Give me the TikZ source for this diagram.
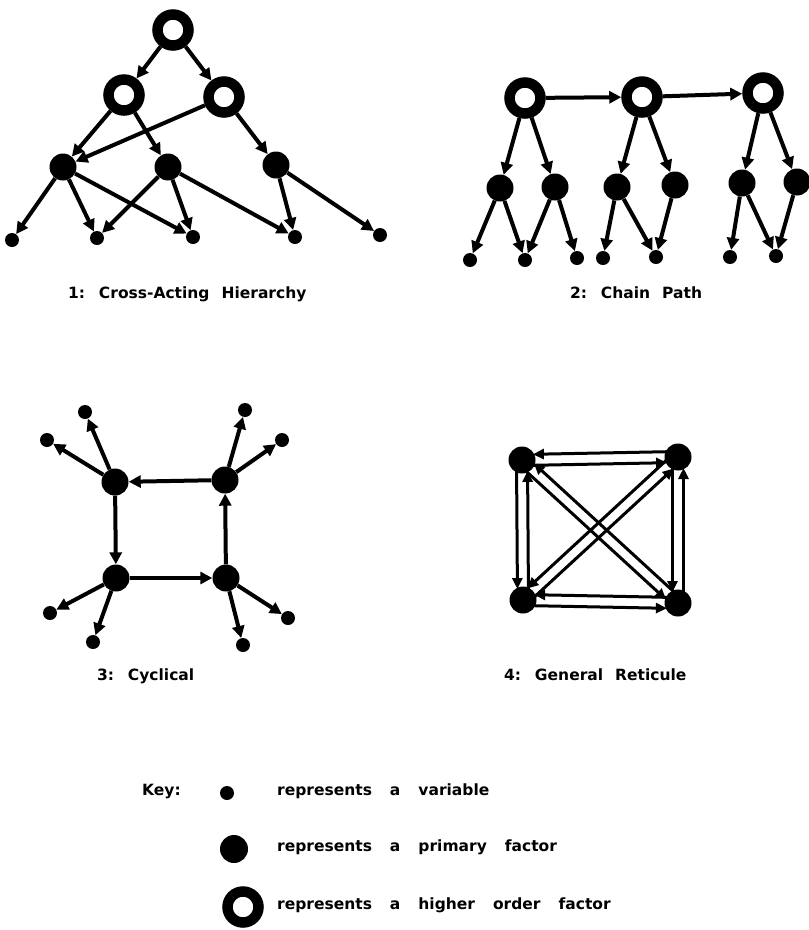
\documentclass[tikz,border=0pt]{standalone}
\usepackage{fontspec}
\newfontfamily\dotfont{DejaVu Sans}
\newcommand\labelfont{\dotfont\bfseries\fontsize{15.5}{18}\selectfont\spaceskip=12pt\relax}
\newcommand\keyfont{\dotfont\bfseries\fontsize{15.5}{18}\selectfont\spaceskip=18pt\relax}
\usetikzlibrary{arrows.meta,calc}
\tikzset{
  higher/.style = {
    circle, draw, line width=10.5pt, minimum size=31pt, inner sep=0pt
  },
  primary/.style = {
    circle, fill, minimum size=27pt, inner sep=0pt
  },
  vardot/.style = {
    circle, fill, minimum size=14pt, inner sep=0pt
  },
  link/.style = {
    -{Triangle[length=12pt,width=12pt]},
    line width=4pt
  },
  twin/.style = {
    -{Triangle[length=11pt,width=10pt]},
    line width=3pt,
    shorten <=11pt, shorten >=11pt,
    to path={($(\tikztostart)!5.5pt!-90:(\tikztotarget)$) -- ($(\tikztotarget)!5.5pt!90:(\tikztostart)$)}
  },
  diaglabel/.style = {
    anchor=mid west, inner sep=0pt, font=\labelfont
  },
  keytext/.style = {
    anchor=mid west, inner sep=0pt, font=\keyfont
  }
}

\begin{document}
\begin{tikzpicture}[x=1pt,y=-1pt]
		\useasboundingbox (0,0) rectangle (809,930);
		% 1: cross-acting hierarchy
		\node[higher] (atop) at (173,30) {};
		\node[higher] (ahl) at (124,95) {};
		\node[higher] (ahr) at (224,97) {};
		\node[primary] (ap1) at (63,167) {};
		\node[primary] (ap2) at (168,167) {};
		\node[primary] (ap3) at (276,165) {};
		\node[vardot] (av1) at (12,240) {};
		\node[vardot] (av2) at (97,238) {};
		\node[vardot] (av3) at (193,237) {};
		\node[vardot] (av4) at (295,237) {};
		\node[vardot] (av5) at (380,235) {};
		
		\path[link]   (atop) edge   (ahl);
		\path[link]   (atop) edge   (ahr);
		\path[link]   (ahl) edge    (ap1);
		\path[link]   (ahl) edge    (ap2);
		\path[link]   (ahr) edge    (ap1);
		\path[link]   (ahr) edge    (ap3);
		\path[link]   (ap1) edge    (av1);
		\path[link]   (ap1) edge    (av2);
		\path[link]   (ap1) edge    (av3);
		\path[link]   (ap2) edge    (av2);
		\path[link]   (ap2) edge    (av3);
		\path[link]   (ap2) edge    (av4);
		\path[link]   (ap3) edge    (av4);
		\path[link]   (ap3) edge    (av5);
		
		\node[diaglabel] (lcross) at (68,296) {1: Cross-Acting Hierarchy};
%		
		% 2: chain path
		\node[higher] (bh1) at (525,98) {};
		\node[higher] (bh2) at (642,97) {};
		\node[higher] (bh3) at (763,93) {};
		\node[primary] (bp1) at (500,188) {};
		\node[primary] (bp2) at (555,187) {};
		\node[primary] (bp3) at (617,187) {};
		\node[primary] (bp4) at (675,185) {};
		\node[primary] (bp5) at (742,183) {};
		\node[primary] (bp6) at (797,182) {};
		\node[vardot] (bv1) at (470,260) {};
		\node[vardot] (bv2) at (525,260) {};
		\node[vardot] (bv3) at (577,258) {};
		\node[vardot] (bv4) at (603,258) {};
		\node[vardot] (bv5) at (656,257) {};
		\node[vardot] (bv6) at (730,257) {};
		\node[vardot] (bv7) at (776,256) {};
		
		\path[link]   (bh1) edge    (bh2);
		\path[link]   (bh2) edge    (bh3);
		\path[link]   (bh1) edge    (bp1);
		\path[link]   (bh1) edge    (bp2);
		\path[link]   (bh2) edge    (bp3);
		\path[link]   (bh2) edge    (bp4);
		\path[link]   (bh3) edge    (bp5);
		\path[link]   (bh3) edge    (bp6);
		\path[link]   (bp1) edge    (bv1);
		\path[link]   (bp1) edge    (bv2);
		\path[link]   (bp2) edge    (bv2);
		\path[link]   (bp2) edge    (bv3);
		\path[link]   (bp3) edge    (bv4);
		\path[link]   (bp3) edge    (bv5);
		\path[link]   (bp4) edge    (bv5);
		\path[link]   (bp5) edge    (bv6);
		\path[link]   (bp5) edge    (bv7);
		\path[link]   (bp6) edge    (bv7);
		
		\node[diaglabel] (lchain) at (570,296) {2: Chain Path};
%		
		% 3: cyclical
		\node[primary] (ctl) at (115,482) {};
		\node[primary] (ctr) at (225,480) {};
		\node[primary] (cbl) at (116,578) {};
		\node[primary] (cbr) at (226,578) {};
		\node[vardot] (cv1) at (85,412) {};
		\node[vardot] (cv2) at (47,440) {};
		\node[vardot] (cv3) at (245,410) {};
		\node[vardot] (cv4) at (282,440) {};
		\node[vardot] (cv5) at (50,613) {};
		\node[vardot] (cv6) at (93,642) {};
		\node[vardot] (cv7) at (243,645) {};
		\node[vardot] (cv8) at (288,618) {};
		
		\path[link]   (ctr) edge    (ctl);
		\path[link]   (ctl) edge    (cbl);
		\path[link]   (cbl) edge    (cbr);
		\path[link]   (cbr) edge    (ctr);
		\path[link]   (ctl) edge    (cv1);
		\path[link]   (ctl) edge    (cv2);
		\path[link]   (ctr) edge    (cv3);
		\path[link]   (ctr) edge    (cv4);
		\path[link]   (cbl) edge    (cv5);
		\path[link]   (cbl) edge    (cv6);
		\path[link]   (cbr) edge    (cv7);
		\path[link]   (cbr) edge    (cv8);
		
		\node[diaglabel] (lcycle) at (97,678) {3: Cyclical};
%		
		% 4: general reticule
		\node[primary] (dtl) at (522,460) {};
		\node[primary] (dtr) at (678,457) {};
		\node[primary] (dbl) at (523,600) {};
		\node[primary] (dbr) at (678,603) {};
		
		\draw[twin]   (dtl) to    (dtr);
		\draw[twin]   (dtr) to    (dtl);
		\draw[twin]   (dtl) to    (dbl);
		\draw[twin]   (dbl) to    (dtl);
		\draw[twin]   (dtr) to    (dbr);
		\draw[twin]   (dbr) to    (dtr);
		\draw[twin]   (dbl) to    (dbr);
		\draw[twin]   (dbr) to    (dbl);
		\draw[twin]   (dtl) to    (dbr);
		\draw[twin]   (dbr) to    (dtl);
		\draw[twin]   (dbl) to    (dtr);
		\draw[twin]   (dtr) to    (dbl);
		
		\node[diaglabel] (lreticule) at (504,678) {4: General Reticule};
%		
		% key
		\node[keytext] (lkey) at (142,793) {Key:};
		\node[vardot] (kvar) at (227,793) {};
		\node[keytext] (kvartext) at (277,793) {represents a variable};
		\node[primary, minimum size=28pt] (kprim) at (234,849) {};
		\node[keytext] (kprimtext) at (277,849) {represents a primary factor};
		\node[higher] (khigh) at (243,907) {};
		\node[keytext] (khightext) at (277,907) {represents a higher order factor};
	\end{tikzpicture}
\end{document}
